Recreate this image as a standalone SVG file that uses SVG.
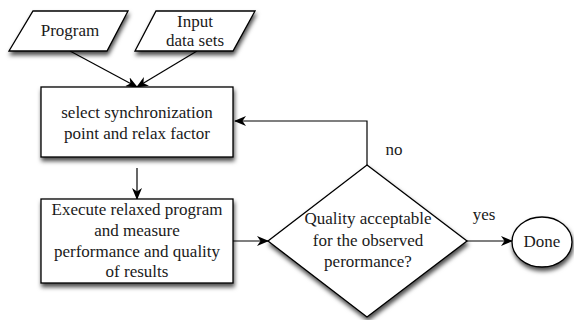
<svg xmlns="http://www.w3.org/2000/svg" width="574" height="320" viewBox="0 0 574 320">
<style>
.shape{fill:#fff;stroke:#000;stroke-width:1.3;filter:url(#sh)}
.c{fill:none;stroke:#000;stroke-width:1.2;marker-end:url(#ah)}
.t{font-family:'Liberation Serif',serif;font-size:17px;fill:#1a1a1a;text-anchor:middle}
</style>
<defs>
<filter id="sh" x="-20%" y="-20%" width="140%" height="150%">
<feDropShadow dx="1" dy="3.5" stdDeviation="2" flood-color="#000" flood-opacity="0.7"/>
</filter>
<marker id="ah" viewBox="0 0 12 10" refX="11" refY="5" markerWidth="12" markerHeight="10" markerUnits="userSpaceOnUse" orient="auto">
<path d="M0,0 L12,5 L0,10 L3.5,5 z" fill="#000"/>
</marker>
</defs>
<g id="connectors">
<line class="c" x1="70" y1="51" x2="137" y2="87"/>
<line class="c" x1="197" y1="51" x2="137" y2="87"/>
<line class="c" x1="137" y1="168" x2="137" y2="199"/>
<polyline class="c" points="367,165 367,121 235,121"/>
<line class="c" x1="233" y1="241" x2="268" y2="241"/>
<line class="c" x1="467" y1="241" x2="512" y2="241"/>
<text class="t" x="394" y="155">no</text>
<text class="t" x="484" y="220">yes</text>
</g>
<g id="program">
<polygon class="shape" points="33,11 128,11 107,51 9,51"/>
<text class="t" x="70" y="36">Program</text>
</g>
<g id="input">
<polygon class="shape" points="156,11 255,11 233,51 135,51"/>
<text class="t" x="195" y="27">Input</text>
<text class="t" x="195" y="46">data sets</text>
</g>
<g id="select">
<rect class="shape" x="41" y="87" width="192" height="70"/>
<text class="t" x="137" y="118">select synchronization</text>
<text class="t" x="137" y="139">point and relax factor</text>
</g>
<g id="execute">
<rect class="shape" x="41" y="199" width="192" height="84"/>
<text class="t" x="137" y="215">Execute relaxed program</text>
<text class="t" x="137" y="236">and measure</text>
<text class="t" x="137" y="257">performance and quality</text>
<text class="t" x="137" y="277">of results</text>
</g>
<g id="decision">
<polygon class="shape" points="367,165 467,241 367,317 268,241"/>
<text class="t" x="368" y="224">Quality acceptable</text>
<text class="t" x="368" y="246">for the observed</text>
<text class="t" x="368" y="267">perormance?</text>
</g>
<g id="done">
<ellipse class="shape" cx="542" cy="242" rx="30" ry="25"/>
<text class="t" x="542" y="247">Done</text>
</g>
</svg>
